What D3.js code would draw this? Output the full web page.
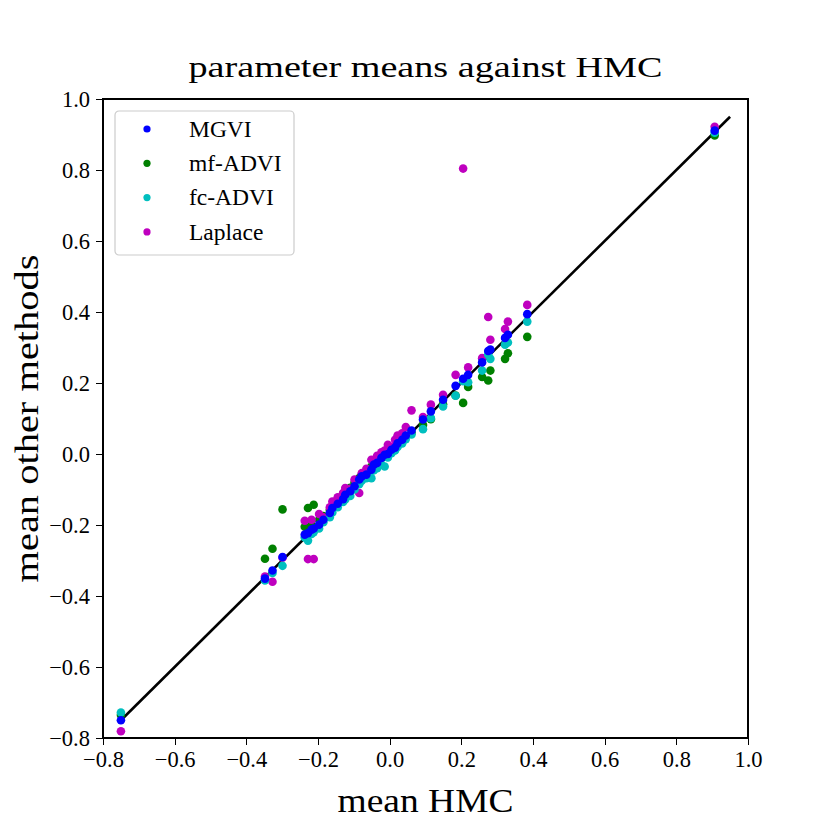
<!DOCTYPE html>
<html lang="en">
<head>
<meta charset="utf-8">
<title>parameter means against HMC</title>
<script src="https://cdn.jsdelivr.net/npm/d3@7"></script>
<style>
  body { margin: 0; background: #fff; }
  text { font-family: "Palatino Linotype", Palatino, "Liberation Serif", serif; fill: #000; }
  .axis path, .axis line { stroke: #000; stroke-width: 1.3; shape-rendering: crispEdges; }
  .axis text { font-size: 22.5px; }
</style>
</head>
<body>
<script>
// HMC means (x) and the matching means from the other methods
var hmc   = [-0.750, -0.348, -0.327, -0.299, -0.237, -0.228, -0.218, -0.212, -0.197, -0.185,
             -0.167, -0.160, -0.145, -0.130, -0.124, -0.110, -0.098, -0.085, -0.078, -0.065,
             -0.051, -0.044, -0.035, -0.023, -0.014, -0.005,  0.005,  0.015,  0.022,  0.035,
              0.045,  0.061,  0.093,  0.115,  0.149,  0.184,  0.205,  0.219,  0.258,  0.275,
              0.281,  0.322,  0.330,  0.384,  0.907];
var mgvi  = [-0.750, -0.351, -0.328, -0.290, -0.227, -0.223, -0.213, -0.210, -0.199, -0.185,
             -0.166, -0.152, -0.140, -0.127, -0.115, -0.105, -0.091, -0.072, -0.063, -0.058,
             -0.044, -0.030, -0.025, -0.011, -0.002,  0.000,  0.012,  0.018,  0.030,  0.040,
              0.052,  0.066,  0.097,  0.120,  0.153,  0.192,  0.212,  0.223,  0.258,  0.290,
              0.294,  0.327,  0.336,  0.394,  0.911];
var mfAdvi = [-0.735, -0.295, -0.267, -0.156, -0.205, -0.152, -0.200, -0.143, -0.185, -0.175,
             -0.158, -0.148, -0.128, -0.112, -0.108, -0.095, -0.080, -0.068, -0.060, -0.050,
             -0.035, -0.028, -0.020, -0.008,  0.000,  0.010,  0.012,  0.022,  0.025,  0.038,
              0.050,  0.060,  0.082,  0.098,  0.140,  0.165,  0.144,  0.189,  0.217,  0.207,
              0.235,  0.268,  0.284,  0.330,  0.897];
var fcAdvi = [-0.728, -0.356, -0.335, -0.315, -0.235, -0.244, -0.225, -0.220, -0.210, -0.192,
             -0.178, -0.165, -0.150, -0.135, -0.128, -0.118, -0.100, -0.085, -0.075, -0.068,
             -0.068, -0.046, -0.040, -0.030, -0.035, -0.010,  0.002,  0.010,  0.020,  0.030,
              0.042,  0.055,  0.070,  0.101,  0.134,  0.164,  0.205,  0.202,  0.235,  0.280,
              0.268,  0.308,  0.314,  0.373,  0.905];
var laplace = [-0.781, -0.345, -0.360, -0.292, -0.188, -0.296, -0.185, -0.296, -0.169, -0.178,
             -0.150, -0.134, -0.122, -0.110, -0.096, -0.098, -0.072, -0.110, -0.054, -0.042,
             -0.016, -0.025, -0.005,  0.005,  0.010,  0.026,  0.020,  0.040,  0.052,  0.058,
              0.076,  0.123,  0.104,  0.139,  0.167,  0.223,  0.804,  0.244,  0.270,  0.386,
              0.322,  0.352,  0.373,  0.420,  0.922];

var methodNames  = ["MGVI", "mf-ADVI", "fc-ADVI", "Laplace"];
var methodColors = ["#0000ff", "#008000", "#00bfbf", "#bf00bf"];
var methodValues = [mgvi, mfAdvi, fcAdvi, laplace];
var drawOrder = [1, 3, 2, 0];   // green first, blue last (on top)

var ticks = [-0.8, -0.6, -0.4, -0.2, 0.0, 0.2, 0.4, 0.6, 0.8, 1.0];
var diagonal = [-0.75, 0.95];

var w = 830, h = 830;
var margin = {top: 99, right: 82, bottom: 92, left: 103};
var width = w - margin.left - margin.right,
    height = h - margin.top - margin.bottom;

var svg = d3.select("body").append("svg")
  .attr("width", w)
  .attr("height", h);

var g = svg.append("g")
  .attr("transform", "translate(" + margin.left + "," + margin.top + ")");

var x = d3.scaleLinear().domain([-0.8, 1.0]).range([0, width]);
var y = d3.scaleLinear().domain([-0.8, 1.0]).range([height, 0]);

// identity line
g.append("line")
  .attr("x1", x(diagonal[0])).attr("y1", y(diagonal[0]))
  .attr("x2", x(diagonal[1])).attr("y2", y(diagonal[1]))
  .style("stroke", "#000")
  .style("stroke-width", 2.6);

// points
drawOrder.forEach(function(m) {
  g.append("g")
    .selectAll("circle")
    .data(hmc)
    .enter()
    .append("circle")
    .attr("cx", function(d) { return x(d); })
    .attr("cy", function(d, i) { return y(methodValues[m][i]); })
    .attr("r", 4.3)
    .style("fill", methodColors[m]);
});

// axes
var fmt = d3.format(".1f");
g.append("g")
  .attr("class", "axis")
  .attr("transform", "translate(0," + height + ")")
  .call(d3.axisBottom(x).tickValues(ticks).tickFormat(fmt).tickSize(7).tickPadding(6).tickSizeOuter(0));

g.append("g")
  .attr("class", "axis")
  .call(d3.axisLeft(y).tickValues(ticks).tickFormat(fmt).tickSize(7).tickPadding(6).tickSizeOuter(0));

g.selectAll(".axis .domain").remove();

// frame
g.append("rect")
  .attr("width", width)
  .attr("height", height)
  .style("fill", "none")
  .style("stroke", "#000")
  .style("stroke-width", 1.3)
  .style("shape-rendering", "crispEdges");

// titles (stretched a little to the width of the original serif)
svg.append("text")
  .attr("x", margin.left + width / 2)
  .attr("y", 77)
  .attr("text-anchor", "middle")
  .attr("textLength", 474)
  .attr("lengthAdjust", "spacingAndGlyphs")
  .style("font-size", "30px")
  .text("parameter means against HMC");

svg.append("text")
  .attr("x", margin.left + width / 2)
  .attr("y", 812)
  .attr("text-anchor", "middle")
  .attr("textLength", 176)
  .attr("lengthAdjust", "spacingAndGlyphs")
  .style("font-size", "34px")
  .text("mean HMC");

svg.append("text")
  .attr("transform", "translate(38," + (margin.top + height / 2) + ") rotate(-90)")
  .attr("text-anchor", "middle")
  .attr("textLength", 328)
  .attr("lengthAdjust", "spacingAndGlyphs")
  .style("font-size", "34px")
  .text("mean other methods");

// legend
var legend = svg.append("g").attr("transform", "translate(115,111)");
legend.append("rect")
  .attr("width", 179)
  .attr("height", 144)
  .attr("rx", 4)
  .style("fill", "#fff")
  .style("fill-opacity", 0.8)
  .style("stroke", "#cccccc")
  .style("stroke-width", 1.2);

methodNames.forEach(function(name, i) {
  legend.append("circle")
    .attr("cx", 32)
    .attr("cy", 18 + i * 34.3)
    .attr("r", 3.6)
    .style("fill", methodColors[i]);
  legend.append("text")
    .attr("x", 74)
    .attr("y", 18 + i * 34.3 + 7.8)
    .style("font-size", "23.5px")
    .text(name);
});
</script>
</body>
</html>
